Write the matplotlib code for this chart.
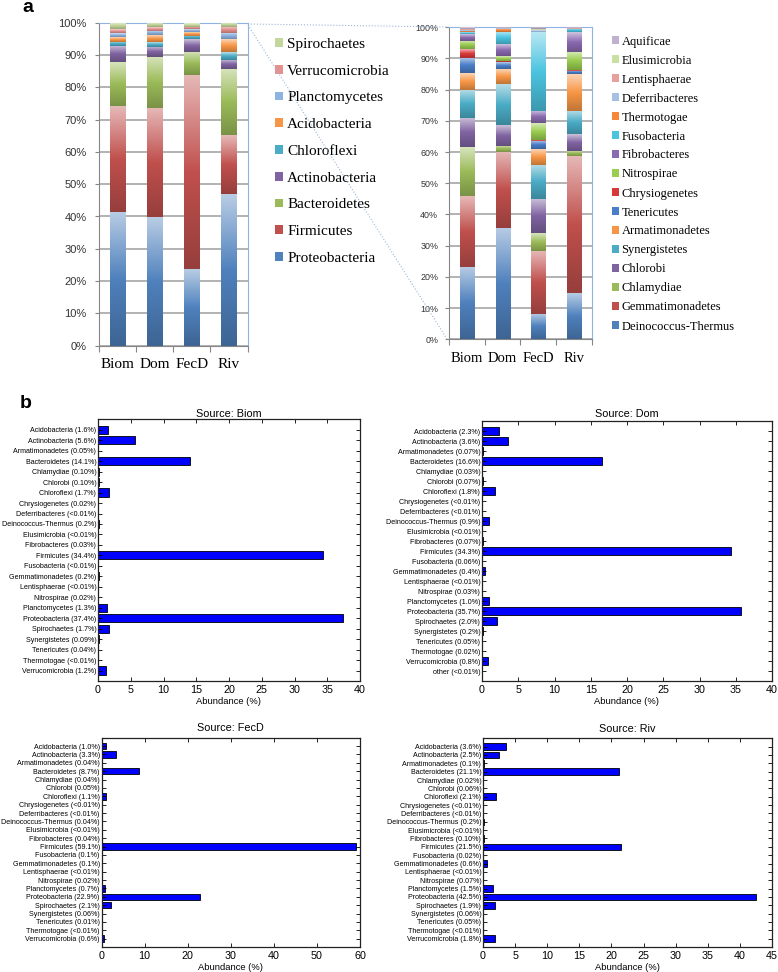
import numpy as np
import matplotlib
matplotlib.use('Agg')
import matplotlib.pyplot as plt
from matplotlib.colors import LinearSegmentedColormap, to_rgb
from matplotlib.patches import Patch
from matplotlib.lines import Line2D
from matplotlib import font_manager

W, H = 778, 972

samples = ['Biom', 'Dom', 'FecD', 'Riv']

# ---- panel a, left: dominant phyla (stack order bottom -> top), % of bar
major = ['Proteobacteria', 'Firmicutes', 'Bacteroidetes', 'Actinobacteria', 'Chloroflexi',
         'Acidobacteria', 'Planctomycetes', 'Verrucomicrobia', 'Spirochaetes']
major_biom = [41.5, 32.7, 13.6, 5.0, 1.3, 1.4, 1.2, 1.2, 2.1]
major_dom = [39.7, 33.8, 15.8, 3.3, 1.5, 2.1, 1.3, 1.1, 1.4]
major_fecd = [23.6, 60.2, 7.2, 3.8, 1.1, 1.1, 0.9, 0.9, 1.2]
major_riv = [47.0, 18.2, 20.5, 2.9, 2.4, 3.8, 1.9, 1.9, 1.4]

# ---- panel a, right: rare phyla (stack order bottom -> top)
minor = ['Deinococcus-Thermus', 'Gemmatimonadetes', 'Chlamydiae', 'Chlorobi', 'Synergistetes',
         'Armatimonadetes', 'Tenericutes', 'Chrysiogenetes', 'Nitrospirae', 'Fibrobacteres',
         'Fusobacteria', 'Thermotogae', 'Deferribacteres', 'Lentisphaerae', 'Elusimicrobia', 'Aquificae']
minor_biom = [23.3, 22.7, 15.5, 9.3, 9.1, 5.4, 5.0, 2.6, 2.8, 2.1, 0.6, 0.4, 0.2, 0.3, 0.2, 0.5]
minor_dom = [35.6, 24.5, 2.0, 6.6, 13.1, 4.8, 2.2, 0.4, 1.6, 3.8, 4.0, 1.0, 0.1, 0.1, 0.1, 0.1]
minor_fecd = [8.1, 20.3, 5.6, 10.9, 11.0, 5.1, 2.6, 0.3, 5.3, 4.0, 25.2, 0.1, 0.6, 0.1, 0.1, 0.7]
minor_riv = [14.7, 44.1, 1.7, 5.2, 7.6, 11.6, 1.1, 0.2, 5.8, 6.4, 1.0, 0.1, 0.1, 0.1, 0.1, 0.2]

major_colors = {'Proteobacteria': '#4F81BD', 'Firmicutes': '#C0504D', 'Bacteroidetes': '#9BBB59',
                'Actinobacteria': '#8064A2', 'Chloroflexi': '#4BACC6', 'Acidobacteria': '#F79646',
                'Planctomycetes': '#8DB3E2', 'Verrucomicrobia': '#E6908E', 'Spirochaetes': '#C3D69B'}
minor_colors = {'Deinococcus-Thermus': '#4F81BD', 'Gemmatimonadetes': '#C0504D', 'Chlamydiae': '#9BBB59',
                'Chlorobi': '#8064A2', 'Synergistetes': '#4BACC6', 'Armatimonadetes': '#F79646',
                'Tenericutes': '#4A7EC8', 'Chrysiogenetes': '#D9383A', 'Nitrospirae': '#9ACD50',
                'Fibrobacteres': '#8A6AB0', 'Fusobacteria': '#4CC4E0', 'Thermotogae': '#F7883A',
                'Deferribacteres': '#A6C0E4', 'Lentisphaerae': '#E8A09D', 'Elusimicrobia': '#C8E0A0',
                'Aquificae': '#BFB1D0'}

# ---- panel b: abundance per source
phyla = ['Acidobacteria', 'Actinobacteria', 'Armatimonadetes', 'Bacteroidetes', 'Chlamydiae', 'Chlorobi',
         'Chloroflexi', 'Chrysiogenetes', 'Deferribacteres', 'Deinococcus-Thermus', 'Elusimicrobia',
         'Fibrobacteres', 'Firmicutes', 'Fusobacteria', 'Gemmatimonadetes', 'Lentisphaerae', 'Nitrospirae',
         'Planctomycetes', 'Proteobacteria', 'Spirochaetes', 'Synergistetes', 'Tenericutes', 'Thermotogae',
         'Verrucomicrobia']
biom_pct = ['1.6', '5.6', '0.05', '14.1', '0.10', '0.10', '1.7', '0.02', '<0.01', '0.2', '<0.01', '0.03',
            '34.4', '<0.01', '0.2', '<0.01', '0.02', '1.3', '37.4', '1.7', '0.09', '0.04', '<0.01', '1.2']
dom_pct = ['2.3', '3.6', '0.07', '16.6', '0.03', '0.07', '1.8', '<0.01', '<0.01', '0.9', '<0.01', '0.07',
           '34.3', '0.06', '0.4', '<0.01', '0.03', '1.0', '35.7', '2.0', '0.2', '0.05', '0.02', '0.8', '<0.01']
fecd_pct = ['1.0', '3.3', '0.04', '8.7', '0.04', '0.05', '1.1', '<0.01', '<0.01', '0.04', '<0.01', '0.04',
            '59.1', '0.1', '0.1', '<0.01', '0.02', '0.7', '22.9', '2.1', '0.06', '0.01', '<0.01', '0.6']
riv_pct = ['3.6', '2.5', '0.1', '21.1', '0.02', '0.06', '2.1', '<0.01', '<0.01', '0.2', '<0.01', '0.10',
           '21.5', '0.02', '0.6', '<0.01', '0.07', '1.5', '42.5', '1.9', '0.06', '0.05', '<0.01', '1.8']

# fonts
avail = {f.name for f in font_manager.fontManager.ttflist}
if 'Liberation Sans Narrow' in avail:
    narrow, k = 'Liberation Sans Narrow', 1.0
elif 'DejaVu Sans Condensed' in avail:
    narrow, k = 'DejaVu Sans Condensed', 0.85
else:
    narrow, k = 'Liberation Sans', 0.82
serif = 'Liberation Serif'
sans = 'Liberation Sans'

fig = plt.figure(figsize=(W / 100, H / 100), dpi=100)


def px_axes(l, t, r, b):
    return fig.add_axes([l / W, 1 - b / H, (r - l) / W, (b - t) / H])


def shade(c, f):
    c = np.array(to_rgb(c))
    if f < 1:
        return tuple(c * f)
    return tuple(c + (1 - c) * (f - 1))


grad = np.linspace(0, 1, 128).reshape(-1, 1)


def stacked(ax, names, table, colors, width):
    x = np.arange(len(samples))
    bottom = np.zeros(len(samples))
    for i, name in enumerate(names):
        vals = np.array([row[i] for row in table])
        c = colors[name]
        bars = ax.bar(x, vals, width, bottom=bottom, color=c, lw=0, zorder=2)
        cmap = LinearSegmentedColormap.from_list(name, [shade(c, 0.78), c, shade(c, 1.6)])
        for b in bars:
            x0, y0 = b.get_x(), b.get_y()
            im = ax.imshow(grad, cmap=cmap, origin='lower', aspect='auto', interpolation='bilinear',
                           extent=(x0, x0 + b.get_width(), y0, y0 + b.get_height()), zorder=3)
            im.set_clip_path(b)
        bottom += vals


def style_a(ax, fs_tick, fs_cat, pad):
    ax.set_xlim(-0.5, 3.5)
    ax.set_ylim(0, 100)
    ax.set_yticks(np.arange(0, 101, 10))
    ax.set_yticklabels([f'{v}%' for v in range(0, 101, 10)], fontsize=fs_tick, family=sans, color='#333333')
    ax.set_xticks(np.arange(-0.5, 4, 1))
    ax.set_xticklabels([])
    ax.set_xticks(np.arange(4), minor=True)
    ax.set_xticklabels(samples, minor=True, fontsize=fs_cat, family=serif)
    ax.tick_params(axis='x', which='major', direction='out', length=4, color='#868686')
    ax.tick_params(axis='x', which='minor', length=0, pad=9)
    ax.tick_params(axis='y', direction='out', length=3, color='#868686', pad=pad)
    ax.grid(axis='y', color='#A6A6A6', lw=1.2)
    ax.set_axisbelow(True)
    for s in ['left', 'bottom']:
        ax.spines[s].set_color('#868686')
    for s in ['top', 'right']:
        ax.spines[s].set_color('#8DB4E2')


# panel a
axL = px_axes(99, 22.7, 247.5, 345.7)
stacked(axL, major, [major_biom, major_dom, major_fecd, major_riv], major_colors, 0.41)
style_a(axL, 8, 11, 6)
hL = [Patch(facecolor=major_colors[n], edgecolor='none') for n in major][::-1]
axL.legend(hL, major[::-1], loc='upper left', bbox_to_anchor=(275 / W, 1 - 38 / H),
           bbox_transform=fig.transFigure, frameon=False, borderpad=0, borderaxespad=0,
           handlelength=0.5, handleheight=0.5, handletextpad=0.3, labelspacing=0.9,
           prop={'family': serif, 'size': 11})

axR = px_axes(449.3, 27.3, 591.5, 339.3)
stacked(axR, minor, [minor_biom, minor_dom, minor_fecd, minor_riv], minor_colors, 0.4)
style_a(axR, 6.4, 10.5, 5)
hR = [Patch(facecolor=minor_colors[n], edgecolor='none') for n in minor][::-1]
axR.legend(hR, minor[::-1], loc='upper left', bbox_to_anchor=(612 / W, 1 - 35.5 / H),
           bbox_transform=fig.transFigure, frameon=False, borderpad=0, borderaxespad=0,
           handlelength=0.55, handleheight=0.55, handletextpad=0.2, labelspacing=0.56,
           prop={'family': serif, 'size': 9})

# zoom connector lines
for (x0, y0, x1, y1) in [(248, 24, 447, 27), (248, 25, 447, 339)]:
    fig.add_artist(Line2D([x0 / W, x1 / W], [1 - y0 / H, 1 - y1 / H], transform=fig.transFigure,
                          ls=':', color='#9BB7D9', lw=0.8))


def hbar(ax, names, pct, xmax, xstep, title, tpad):
    vals = [0.005 if p.startswith('<') else float(p) for p in pct]
    labels = [f'{n} ({p}%)' for n, p in zip(names, pct)]
    pos = np.arange(len(names))[::-1]
    ax.barh(pos, vals, height=0.78, color='#0000FF', edgecolor='black', lw=0.6)
    ax.set_yticks(pos)
    ax.set_yticklabels(labels, fontsize=6.3 * k, family=narrow)
    ax.set_ylim(-1, len(names))
    ax.set_xlim(0, xmax)
    ax.set_xticks(np.arange(0, xmax + 1, xstep))
    ax.tick_params(direction='in', top=True, right=True, length=3, width=0.6)
    ax.tick_params(axis='y', pad=1.2)
    ax.tick_params(axis='x', labelsize=9.5 * k, pad=3)
    for t in ax.get_xticklabels():
        t.set_family(narrow)
    ax.set_xlabel('Abundance (%)', fontsize=8.2 * k, family=narrow, labelpad=1.5)
    ax.set_title(title, fontsize=9.6 * k, family=narrow, pad=tpad)
    for s in ax.spines.values():
        s.set_color('#222222')
        s.set_linewidth(0.9)


hbar(px_axes(98, 419.3, 360, 681), phyla, biom_pct, 40, 5, 'Source: Biom', 1.5)
hbar(px_axes(482, 421, 772, 681), phyla + ['other'], dom_pct, 40, 5, 'Source: Dom', 3)
hbar(px_axes(101.5, 737.7, 360, 947), phyla, fecd_pct, 60, 10, 'Source: FecD', 4.5)
hbar(px_axes(483, 738.3, 772, 947), phyla, riv_pct, 45, 5, 'Source: Riv', 4.5)

fig.text(22 / W, 1 - 8 / H, 'a', fontsize=14, fontweight='bold', family=sans, va='center')
fig.text(20 / W, 1 - 404 / H, 'b', fontsize=14, fontweight='bold', family=sans, va='center')

fig.savefig('out.png', dpi=100)
